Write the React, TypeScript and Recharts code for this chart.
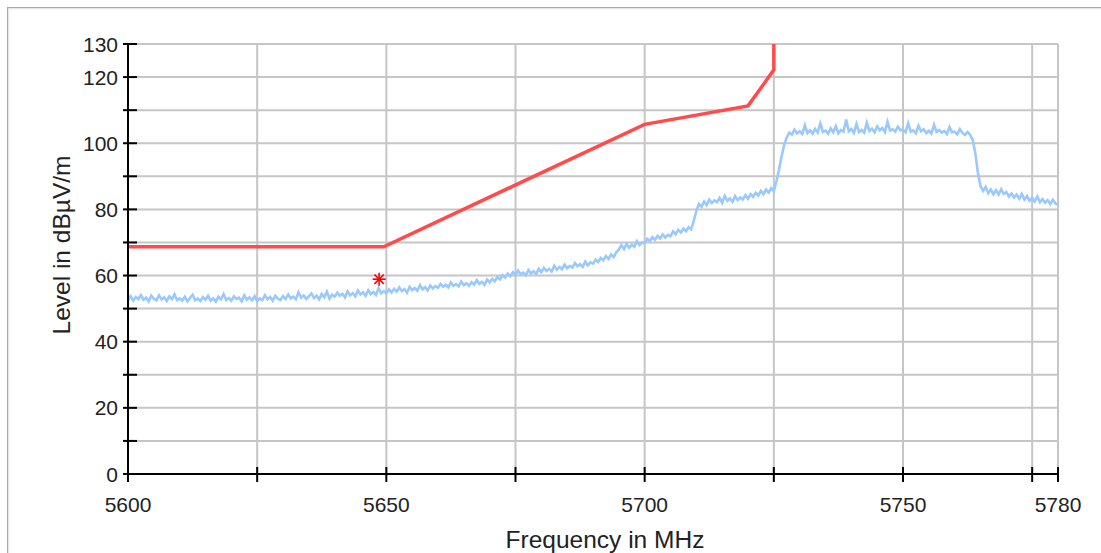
import { ComposedChart, Line, Scatter, XAxis, YAxis, CartesianGrid } from 'recharts'

const FONT = '"Liberation Sans", Arial, sans-serif'

const X_TICKS = [5600, 5625, 5650, 5675, 5700, 5725, 5750, 5775, 5780]
const X_LABELS = [5600, 5650, 5700, 5750, 5780]
const Y_TICKS = [0, 10, 20, 30, 40, 50, 60, 70, 80, 90, 100, 110, 120, 130]
const Y_LABELS = [0, 20, 40, 60, 80, 100, 120, 130]

// limit mask (red)
const LIMIT_FREQ = [5600, 5649.5, 5700, 5720, 5722.5, 5725, 5725]
const LIMIT_LEVEL = [68.7, 68.7, 105.7, 111.3, 116.7, 122.2, 130]

// measured peak marker
const MARKER_FREQ = [5648.6]
const MARKER_LEVEL = [58.9]

// spectrum trace, 0.5 MHz sweep points starting at 5600 MHz
const SWEEP_START = 5600
const SWEEP_STEP = 0.5
const SPECTRUM_LEVEL = [
  52.6, 53.8, 52.4, 53.5, 52.9, 54.1, 52.7, 53.3, 52.2, 53.9, 53.0, 52.5, 54.0, 52.8, 53.4, 52.3, 53.7, 52.9, 54.3, 52.6,
  53.1, 52.4, 53.6, 52.2, 53.2, 54.2, 52.5, 53.0, 52.3, 53.5, 52.7, 53.9, 52.4, 53.1, 52.1, 53.6, 52.8, 54.4, 52.6, 53.2,
  52.4, 53.7, 52.9, 53.3, 52.2, 54.0, 52.7, 53.4, 52.5, 53.8, 52.3, 53.1, 52.6, 54.1, 52.8, 53.5, 52.4, 53.9, 53.0, 52.6,
  53.8, 52.9, 54.3, 53.1, 53.6, 52.8, 55.0, 53.3, 54.0, 52.9, 53.7, 54.6, 53.2, 53.9, 52.8, 54.4, 53.4, 55.1, 53.0, 54.2,
  53.6, 54.8, 53.9, 54.5, 53.4, 55.2, 54.0, 54.7, 53.7, 55.5, 54.3, 54.9, 53.9, 55.6, 54.4, 55.0, 54.1, 56.2, 54.6, 55.3,
  54.7, 55.8, 54.9, 56.0, 55.1, 56.4, 55.3, 55.9, 54.8, 56.6, 55.6, 56.2, 55.4, 57.1, 55.8, 56.5, 55.5, 57.0, 56.1, 56.8,
  56.3, 57.5, 56.6, 57.2, 56.4, 57.9, 56.9, 57.4, 56.7, 58.2, 57.1, 57.7, 56.9, 58.0, 57.3, 58.6, 57.5, 58.1, 57.2, 58.8,
  57.9, 59.0, 58.3, 59.6, 58.8, 60.1, 59.4, 60.6, 59.8, 61.0, 60.2, 61.5, 60.4, 60.9, 60.1, 61.7, 60.6, 61.3, 60.5, 62.0,
  61.0, 62.3, 61.4, 62.0, 61.2, 63.0, 61.8, 62.6, 61.9, 63.3, 62.2, 62.9, 62.4, 63.8, 62.8, 63.4, 62.6, 64.2, 63.1, 64.0,
  63.6, 64.8, 64.1, 65.3, 64.6, 65.9, 65.0, 66.4, 65.6, 67.0, 67.8, 69.2, 68.0, 69.6, 68.4, 69.3, 68.7, 70.4, 69.2, 70.0,
  69.8, 71.1, 70.4, 71.6, 70.8, 72.0, 71.2, 72.4, 71.5, 72.3, 71.9, 73.4, 72.5, 73.8, 73.0, 74.2, 73.4, 74.6, 74.0, 76.5,
  79.5, 81.6, 80.8, 82.4, 81.3, 83.0, 81.9, 82.7, 82.2, 83.5, 82.0, 84.1, 82.6, 83.3, 82.3, 84.0, 82.8, 83.6, 83.0, 84.3,
  83.2, 84.6, 83.8, 85.0, 84.2, 85.6, 84.6, 86.0, 85.1, 86.4, 85.5, 88.5, 92.0, 96.0, 99.5, 101.8, 103.2, 102.6, 104.1, 103.0,
  103.6, 102.8, 105.4, 103.1, 103.9, 102.9, 104.3, 103.2, 106.0, 103.4, 103.8, 102.9, 104.5, 103.3, 105.2, 103.0, 104.0, 103.5, 107.2, 103.6,
  104.3, 103.1, 105.8, 103.4, 104.0, 103.2, 106.2, 103.7, 104.4, 103.3, 105.1, 103.9, 104.6, 103.4, 106.5, 103.8, 104.2, 103.5, 105.0, 103.9,
  104.1, 103.3, 106.1, 103.5, 103.9, 103.0, 105.3, 103.6, 104.2, 103.1, 103.8, 102.9, 105.6, 103.4, 104.0, 103.2, 103.7, 102.8, 104.9, 103.3,
  103.5, 102.7, 104.3, 103.1, 102.5, 103.4, 102.5, 101.0, 97.0, 91.0, 87.0, 85.6, 86.8, 84.9, 86.0, 84.6, 85.8, 84.5, 86.1, 84.7,
  85.2, 83.9, 84.8, 83.6, 84.5, 83.2, 84.7, 83.0, 84.0, 82.6, 83.5, 82.4, 83.9, 82.2, 83.1, 82.0, 82.8, 81.6, 82.9, 81.8,
  81.4,
]

const spectrum = SPECTRUM_LEVEL.map((v, i) => ({ f: SWEEP_START + i * SWEEP_STEP, v }))
const limit = LIMIT_FREQ.map((f, i) => ({ f, v: LIMIT_LEVEL[i] }))
const marker = MARKER_FREQ.map((f, i) => ({ f, v: MARKER_LEVEL[i] }))

function XTick({ x, y, payload }: any) {
  const v = payload.value
  return (
    <g>
      <line x1={x} x2={x} y1={y - 7} y2={y + 8} stroke="#000" strokeWidth={2} />
      {X_LABELS.includes(v) && (
        <text x={x} y={y + 38} textAnchor="middle" fontSize={21} fontFamily={FONT} fill="#222">{v}</text>
      )}
    </g>
  )
}

function YTick({ x, y, payload }: any) {
  const v = payload.value
  return (
    <g>
      <line x1={x - 5} x2={x + 9} y1={y} y2={y} stroke="#000" strokeWidth={2} />
      {Y_LABELS.includes(v) && (
        <text x={x - 10} y={y + 7.5} textAnchor="end" fontSize={21} fontFamily={FONT} fill="#222">{v}</text>
      )}
    </g>
  )
}

function Asterisk({ cx, cy }: any) {
  const r = 6.5
  const d = r * 0.72
  return (
    <g stroke="#ff0000" strokeWidth={1.6}>
      <line x1={cx - r} x2={cx + r} y1={cy} y2={cy} />
      <line x1={cx} x2={cx} y1={cy - r} y2={cy + r} />
      <line x1={cx - d} x2={cx + d} y1={cy - d} y2={cy + d} />
      <line x1={cx - d} x2={cx + d} y1={cy + d} y2={cy - d} />
    </g>
  )
}

const XTitle = () => (
  <text x={597} y={540} textAnchor="middle" fontSize={24.5} fontFamily={FONT} fill="#222">Frequency in MHz</text>
)

const YTitle = () => (
  <text x={53} y={237} transform="rotate(-90 53 237)" textAnchor="middle" dominantBaseline="central"
    fontSize={24.5} fontFamily={FONT} fill="#222">Level in dBµV/m</text>
)

export default function App() {
  return (
    <div style={{ position: 'absolute', left: 7, top: 7, width: 1100, height: 560, borderTop: '1px solid #a9a9a9', borderLeft: '1px solid #a9a9a9', boxShadow: 'inset 1px 1px 2px #e2e2e2', background: '#fff' }}>
      <ComposedChart width={1080} height={545} margin={{ top: 36, right: 30, bottom: 3, left: 0 }}>
        <CartesianGrid stroke="#c6c6c6" strokeWidth={2} />
        <XAxis dataKey="f" type="number" domain={[5600, 5780]} ticks={X_TICKS} interval={0}
          allowDataOverflow height={76} tickSize={0} tickMargin={0} tickLine={false}
          axisLine={{ stroke: '#000', strokeWidth: 2 }} tick={<XTick />} label={{ content: XTitle }} />
        <YAxis type="number" domain={[0, 130]} ticks={Y_TICKS} interval={0} allowDataOverflow
          width={120} tickSize={0} tickMargin={0} tickLine={false}
          axisLine={{ stroke: '#000', strokeWidth: 2 }} tick={<YTick />} label={{ content: YTitle }} />
        <Line data={spectrum} dataKey="v" stroke="#99c9ff" strokeWidth={2.6} dot={false} isAnimationActive={false} />
        <Line data={limit} dataKey="v" stroke="#ff4b4b" strokeWidth={3.5} dot={false} isAnimationActive={false} />
        <Scatter data={marker} dataKey="v" shape={<Asterisk />} isAnimationActive={false} />
      </ComposedChart>
    </div>
  )
}
